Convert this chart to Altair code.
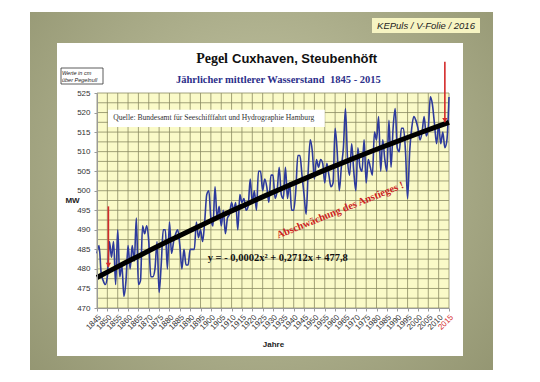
import altair as alt
import pandas as pd

# ---------------- data ----------------
start_year = 1845
water_level = [
    484, 486, 479, 477, 476, 478, 487, 483, 487, 476,   # 1845-1854
    490, 478, 481, 473, 477, 486, 480, 486, 482, 493,   # 1855-1864
    476, 477, 491, 489, 491, 487, 478, 478, 480, 487,   # 1865-1874
    474, 481, 490, 490, 480, 492, 484, 487, 489, 490,   # 1875-1884
    486, 480, 485, 481, 481, 485, 485, 485, 492, 488,   # 1885-1894
    490, 487, 492, 499, 500, 493, 491, 501, 493, 496,   # 1895-1904
    491, 495, 489, 493, 494, 497, 495, 497, 490, 499,   # 1905-1914
    497, 498, 495, 496, 503, 497, 500, 495, 505, 505,   # 1915-1924
    500, 503, 501, 497, 504, 504, 498, 500, 506, 499,   # 1925-1934
    498, 506, 498, 502, 495, 495, 500, 509, 509, 504,   # 1935-1944
    499, 494, 505, 513, 510, 503, 508, 506, 508, 507,   # 1945-1954
    502, 507, 504, 501, 502, 516, 510, 500, 506, 511,   # 1955-1964
    521, 508, 504, 512, 505, 500, 511, 506, 505, 513,   # 1965-1974
    502, 508, 506, 504, 515, 513, 519, 505, 513, 508,   # 1975-1984
    505, 518, 506, 516, 521, 511, 510, 516, 516, 510,   # 1985-1994
    498, 510, 516, 519, 518, 516, 513, 515, 519, 514,   # 1995-2004
    516, 524, 522, 517, 512, 517, 512, 515, 511, 513,   # 2005-2014
    524,                                                # 2015
]
years = list(range(start_year, start_year + len(water_level)))

x_ticks = list(range(1845, 2016, 5))
y_ticks = list(range(470, 526, 5))
y_grid = [470 + 2.5 * i for i in range(23)]

arrow_years = [1850.5, 2013]
arrow_top = [496, 533]
arrow_tip = [480.5, 517.5]

source_box = {"year": [1850.3], "year2": [1955], "value": [520.7], "value2": [516.3]}
source_text = "Quelle: Bundesamt für Seeschifffahrt und Hydrographie Hamburg"
equation_text = "y =  - 0,0002x² + 0,2712x + 477,8"
note_text = "Abschwächung des Anstieges !"

# ---------------- layout ----------------
W, H = 352, 215
SANS = "Liberation Sans"
SERIF = "Liberation Serif"
GRID = "#8a8a62"

line_df = pd.DataFrame({"year": years, "value": water_level})

X = alt.X(
    "year:Q",
    scale=alt.Scale(domain=[1845, 2015], nice=False, zero=False),
    axis=alt.Axis(
        values=x_ticks, format="d", labelAngle=315, labelFont=SANS, labelFontSize=8,
        labelColor=alt.ExprRef("datum.value == 2015 ? '#d42a2a' : '#333333'"),
        labelPadding=2, labelOverlap=False,
        title="Jahre", titleFont=SANS, titleFontSize=8, titleFontWeight="bold",
        titleColor="#222222", titleY=36, titleBaseline="middle",
        grid=False, domainColor="#9a9a9a", tickColor="#9a9a9a", tickSize=3, zindex=1,
    ),
)
Y = alt.Y(
    "value:Q",
    scale=alt.Scale(domain=[470, 525], nice=False, zero=False),
    axis=alt.Axis(
        values=y_ticks, labelFont=SANS, labelFontSize=8, labelColor="#333333",
        labelPadding=4,
        title="MW", titleAngle=0, titleFont=SANS, titleFontSize=8, titleFontWeight="bold",
        titleColor="#222222", titleX=-25, titleY=107, titleAlign="center",
        titleBaseline="middle",
        grid=False, domainColor="#9a9a9a", tickColor="#9a9a9a", tickSize=3, zindex=1,
    ),
)

one = pd.DataFrame({"a": [0]})


def px_rect(x0, x1, y0, y1, **kw):
    return alt.Chart(one).mark_rect(**kw).encode(
        x=alt.value(x0), x2=alt.value(x1), y=alt.value(y0), y2=alt.value(y1)
    )


def px_text(txt, x, y, **kw):
    return alt.Chart(one).mark_text(text=txt, **kw).encode(x=alt.value(x), y=alt.value(y))


olive = px_rect(
    -67, 396, -81, 277,
    fill={"gradient": "radial", "x1": 0.5, "y1": 0.45, "x2": 0.5, "y2": 0.45,
          "r1": 0, "r2": 0.75,
          "stops": [{"offset": 0, "color": "#c6c8a6"}, {"offset": 1, "color": "#8e906c"}]},
)
white = px_rect(-40, 366, -50, 263, fill="white")
kep_box = px_rect(275, 383, -75, -60, fill="#f6f4c2")
kep_text = px_text("KEPuls / V-Folie / 2016", 329, -67, font=SANS, fontSize=9.5,
                   fontStyle="italic", color="#222222", align="center", baseline="middle")
werte_box = px_rect(-36, 6, -25, -9, fill="white", stroke="#333333", strokeWidth=0.8)
werte1 = px_text("Werte in cm", -35, -20, font=SANS, fontSize=5.5, fontStyle="italic",
                 color="#222222", align="left", baseline="middle")
werte2 = px_text("über Pegelnull", -35, -13, font=SANS, fontSize=5.5, fontStyle="italic",
                 color="#222222", align="left", baseline="middle")

title_a = px_text("Pegel", 131, -30, font=SERIF, fontSize=14, fontWeight="bold",
                  color="#111111", align="right", baseline="alphabetic")
title_b = px_text("Cuxhaven, Steubenhöft", 135, -30, font=SANS, fontSize=13,
                  fontWeight="bold", color="#111111", align="left", baseline="alphabetic")
sub_a = px_text("Jährlicher mittlerer Wasserstand", 79, -10, font=SERIF, fontSize=10.5,
                fontWeight="bold", color="#2c2f8a", align="left", baseline="alphabetic")
sub_b = px_text("1845 - 2015", 233, -10, font=SERIF, fontSize=10.5,
                fontWeight="bold", color="#2c2f8a", align="left", baseline="alphabetic")

plot_bg = px_rect(0, W, 0, H, fill="#fafac8")

vgrid = alt.Chart(pd.DataFrame({"year": x_ticks})).mark_rule(
    color=GRID, strokeWidth=0.8).encode(x=X)
hgrid = alt.Chart(pd.DataFrame({"value": y_grid})).mark_rule(
    color=GRID, strokeWidth=0.8).encode(y=Y)

src_rect = alt.Chart(pd.DataFrame(source_box)).mark_rect(fill="white").encode(
    x=X, x2="year2:Q", y=Y, y2="value2:Q")
src_txt = alt.Chart(pd.DataFrame({"year": [1852.8], "value": [518.5]})).mark_text(
    text=source_text, font=SERIF, fontSize=7.6, color="#333333", align="left",
    baseline="middle").encode(x=X, y=Y)

series = alt.Chart(line_df).mark_line(
    color="#2d3a9c", strokeWidth=1.6, interpolate="monotone").encode(x=X, y=Y)

trend = alt.Chart(line_df).transform_regression(
    "year", "value", method="poly", order=2, extent=[1845, 2015]
).mark_line(color="#000000", strokeWidth=5).encode(x=X, y=Y)

arrow_df = pd.DataFrame({"year": arrow_years, "value": arrow_top, "value2": arrow_tip})
arrow_shaft = alt.Chart(arrow_df).mark_rule(color="#d42a2a", strokeWidth=1.6).encode(
    x=X, y=Y, y2="value2:Q")
arrow_head = alt.Chart(
    pd.DataFrame({"year": arrow_years, "value": arrow_tip})
).mark_point(shape="triangle-down", filled=True, color="#d42a2a", size=28,
             opacity=1, yOffset=-2).encode(x=X, y=Y)

eq = alt.Chart(pd.DataFrame({"year": [1932.3], "value": [482.8]})).mark_text(
    text=equation_text, font=SERIF, fontSize=10.5, fontWeight="bold", color="#111111",
    align="center", baseline="middle").encode(x=X, y=Y)

note = alt.Chart(pd.DataFrame({"year": [1962.5], "value": [495]})).mark_text(
    text=note_text, font=SERIF, fontSize=10.5, fontWeight="bold", color="#cc2222",
    angle=338, align="center", baseline="middle").encode(x=X, y=Y)

chart = alt.layer(
    olive, white, kep_box, kep_text, werte_box, werte1, werte2,
    title_a, title_b, sub_a, sub_b,
    plot_bg, vgrid, hgrid, src_rect, src_txt,
    series, trend, arrow_shaft, arrow_head, eq, note,
).properties(
    width=W, height=H,
    autosize=alt.AutoSizeParams(type="none"),
    padding={"left": 89, "top": 85, "right": 83, "bottom": 66},
    background="white",
).configure_view(strokeWidth=0)

chart.save("out.html", embed_options={"renderer": "svg", "actions": False})
